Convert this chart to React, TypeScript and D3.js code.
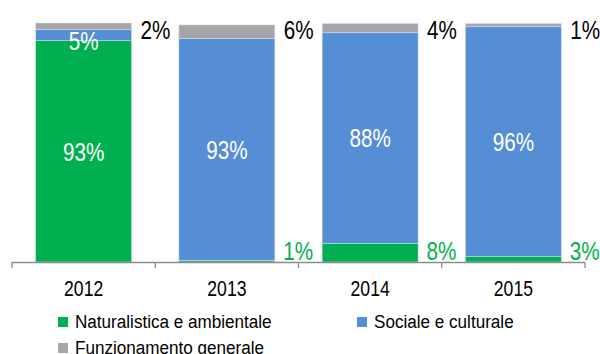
import React from "react";
import * as d3 from "d3";

const years = ["2012", "2013", "2014", "2015"];
const naturalistica = [92.6, 0.7, 7.8, 2.2];
const sociale = [4.6, 92.9, 88.1, 96.2];
const funzionamento = [2.8, 5.6, 3.9, 1.4];
const naturalisticaLabels = ["93%", "1%", "8%", "3%"];
const socialeLabels = ["5%", "93%", "88%", "96%"];
const funzionamentoLabels = ["2%", "6%", "4%", "1%"];
const seriesNames = ["Naturalistica e ambientale", "Sociale e culturale", "Funzionamento generale"];
const colors = ["#00B050", "#558ED5", "#A6A5A9"];

const W = 600, H = 354;
const FONT = "'Liberation Sans', Arial, sans-serif";

function NText({ x, y, sx, size, fill, anchor, children }: any) {
  return (
    <text transform={`translate(${x},${y}) scale(${sx},1)`} textAnchor={anchor || "start"} fontSize={size} fill={fill}>
      {children}
    </text>
  );
}

export default function App() {
  const x = d3.scaleBand().domain(years).range([12, 585]).paddingInner(0.33).paddingOuter(0.165);
  const y = d3.scaleLinear().domain([0, 100]).range([262, 23]);
  const rows = years.map((yr, i) => ({ year: yr, nat: naturalistica[i], soc: sociale[i], fun: funzionamento[i] }));
  const stack = d3.stack<any>().keys(["nat", "soc", "fun"])(rows);
  const bw = x.bandwidth();
  const ticks = [12, ...years.map((yr) => (x(yr)! + bw / 2) + x.step() / 2)];
  const LS = 25.5, LX = 0.81;

  return (
    <svg width={W} height={H} style={{ position: "absolute", left: 0, top: 0 }} fontFamily={FONT}>
      {stack.map((s, si) =>
        s.map((d, i) => (
          <rect key={si + "-" + i} x={x(years[i])} y={y(d[1])} width={bw} height={Math.max(0, y(d[0]) - y(d[1]))}
            fill={colors[si]} stroke="#d8e4f4" strokeWidth={0.5} />
        ))
      )}
      {rows.map((r, i) => {
        const cx = x(r.year)! + bw / 2;
        const right = x(r.year)! + bw;
        const els: any[] = [];
        if (r.nat > 50) {
          els.push(<NText key="n" x={cx} y={y(r.nat / 2) + 9.2} sx={LX} size={LS} fill="#fff" anchor="middle">{naturalisticaLabels[i]}</NText>);
        } else {
          els.push(<NText key="n" x={right + 8.5} y={259.5} sx={LX} size={LS} fill="#00B050">{naturalisticaLabels[i]}</NText>);
        }
        const sy = r.soc > 20 ? y(r.nat + r.soc / 2) + 9.2 : y(r.nat) + 9.5;
        els.push(<NText key="s" x={cx} y={sy} sx={LX} size={LS} fill="#fff" anchor="middle">{socialeLabels[i]}</NText>);
        els.push(<NText key="f" x={right + 9} y={39} sx={LX} size={LS} fill="#000">{funzionamentoLabels[i]}</NText>);
        return <g key={r.year}>{els}</g>;
      })}
      <line x1={12} x2={585} y1={262.5} y2={262.5} stroke="#8c8c8c" strokeWidth={1.3} />
      {ticks.map((t, i) => (
        <line key={i} x1={t} x2={t} y1={262} y2={268} stroke="#8c8c8c" strokeWidth={1.3} />
      ))}
      {years.map((yr) => (
        <NText key={yr} x={x(yr)! + bw / 2} y={296} sx={0.8} size={22} fill="#000" anchor="middle">{yr}</NText>
      ))}
      {[
        { i: 0, x: 58, y: 317, ty: 327.5 },
        { i: 1, x: 357, y: 317, ty: 327.5 },
        { i: 2, x: 58, y: 343, ty: 353.5 },
      ].map((l) => (
        <g key={l.i}>
          <rect x={l.x} y={l.y} width={10} height={10} fill={colors[l.i]} />
          <NText x={l.x + 17} y={l.ty} sx={0.9} size={19} fill="#000">{seriesNames[l.i]}</NText>
        </g>
      ))}
    </svg>
  );
}
